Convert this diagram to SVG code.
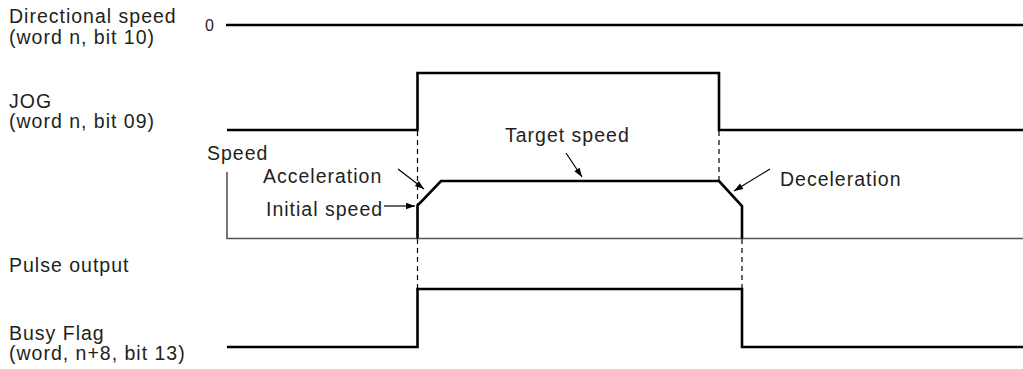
<svg xmlns="http://www.w3.org/2000/svg" width="1023" height="369" viewBox="0 0 1023 369">
<style>
text{font-family:"Liberation Sans",Arial,sans-serif;font-size:19.5px;fill:#231f20;letter-spacing:1px}
.z{font-size:16px;letter-spacing:0}
.w{fill:none;stroke:#000;stroke-width:2.6;stroke-linejoin:miter;stroke-linecap:butt}
.ax{fill:none;stroke:#555;stroke-width:1.6}
.d{fill:none;stroke:#000;stroke-width:1.2;stroke-dasharray:5,4}
.a{fill:none;stroke:#000;stroke-width:1.2}
</style>
<defs>
<marker id="ah" viewBox="0 0 10 10" refX="10" refY="5" markerWidth="10" markerHeight="9" markerUnits="userSpaceOnUse" orient="auto">
<path d="M0,1.5 L10,5 L0,8.5 Z" fill="#000"/>
</marker>
</defs>
<g id="labels">
<text x="9" y="23">Directional speed</text>
<text x="9" y="44">(word n, bit 10)</text>
<text class="z" x="205" y="31">0</text>
<text x="9" y="108">JOG</text>
<text x="9" y="128">(word n, bit 09)</text>
<text x="207" y="160">Speed</text>
<text x="263" y="183">Acceleration</text>
<text x="266" y="216">Initial speed</text>
<text x="505" y="142">Target speed</text>
<text x="780" y="186">Deceleration</text>
<text x="9" y="272">Pulse output</text>
<text x="9" y="340">Busy Flag</text>
<text x="9" y="360">(word, n+8, bit 13)</text>
</g>
<g id="connectors">
<line class="d" x1="417.5" y1="131" x2="417.5" y2="289"/>
<line class="d" x1="719" y1="131" x2="719" y2="181"/>
<line class="d" x1="742" y1="239" x2="742" y2="289"/>
<line class="a" x1="384" y1="206" x2="415" y2="206" marker-end="url(#ah)"/>
<line class="a" x1="398" y1="169" x2="424" y2="189" marker-end="url(#ah)"/>
<line class="a" x1="566" y1="153" x2="582" y2="177" marker-end="url(#ah)"/>
<line class="a" x1="770" y1="169" x2="734" y2="191" marker-end="url(#ah)"/>
</g>
<g id="directional">
<line class="w" x1="226" y1="25" x2="1023" y2="25"/>
</g>
<g id="jog">
<polyline class="w" points="227,130 417.5,130 417.5,73 719,73 719,130 1023,130"/>
</g>
<g id="speed">
<polyline class="ax" points="227,172 227,238.5 1023,238.5"/>
<polyline class="w" points="417.5,238.5 417.5,205.5 441,181 719,181 742,206 742,238.5"/>
</g>
<g id="busy">
<polyline class="w" points="227,347 417.5,347 417.5,289 742,289 742,347 1023,347"/>
</g>
</svg>
